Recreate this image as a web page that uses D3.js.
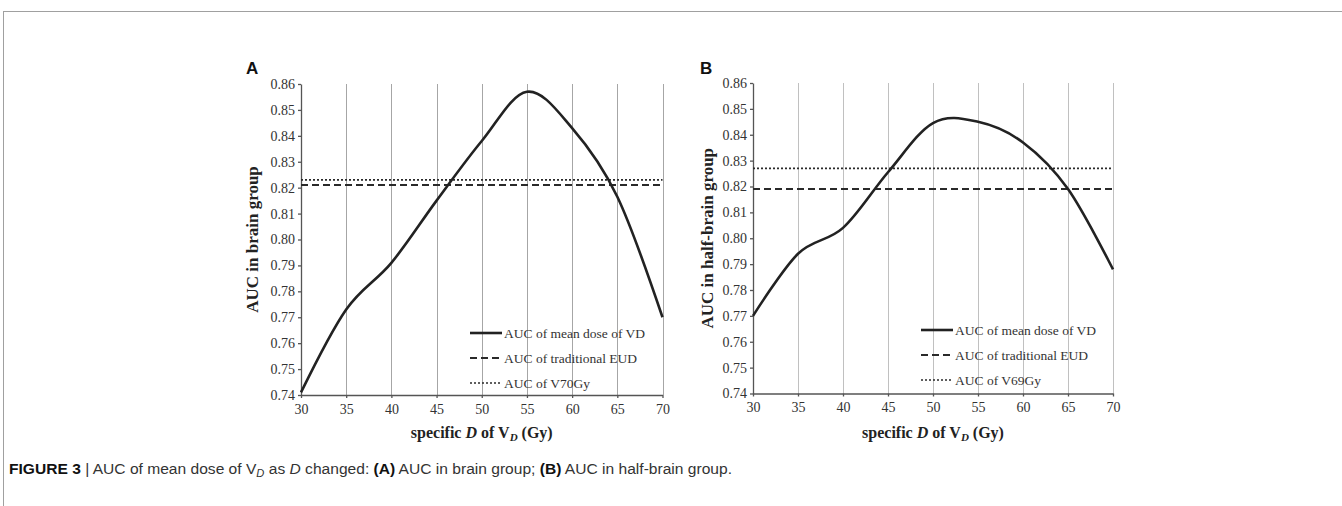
<!DOCTYPE html>
<meta charset="utf-8">
<style>
body { margin: 0; background: #fff; }
.grid line { stroke: #a8a8a8; stroke-width: 1; }
.axis path, .axis line { stroke: #555; stroke-width: 1.3; }
.axis text { font-family: "Liberation Serif", "Times New Roman", serif; font-size: 14px; fill: #333; }
.curve { fill: none; stroke: #222; stroke-width: 2.6; }
.eud { stroke: #2a2a2a; stroke-width: 2; stroke-dasharray: 7 4; }
.vgy { stroke: #2a2a2a; stroke-width: 1.6; stroke-dasharray: 2 2; }
.title { font-family: "Liberation Serif", "Times New Roman", serif; font-size: 17px; font-weight: bold; fill: #222; }
.legend text { font-family: "Liberation Serif", "Times New Roman", serif; font-size: 13.5px; fill: #333; }
</style>
<svg width="1342" height="506"></svg>
<script src="https://cdnjs.cloudflare.com/ajax/libs/d3/7.8.5/d3.min.js"></script>
<script>

// specific D (Gy) where the curves were read
var doses = [30, 35, 40, 45, 50, 55, 60, 65, 70];

// panel A - brain group
var aucBrain = [0.741, 0.773, 0.791, 0.815, 0.838, 0.857, 0.843, 0.8165, 0.770];
var eudBrain = 0.821;
var vgyBrain = 0.823;

// panel B - half-brain group
var aucHalf = [0.770, 0.794, 0.804, 0.8255, 0.8445, 0.845, 0.837, 0.819, 0.788];
var eudHalf = 0.819;
var vgyHalf = 0.827;

var xTicks = [30, 35, 40, 45, 50, 55, 60, 65, 70];
var yTicks = d3.range(74, 87).map(function(d) { return d / 100; });

var svg = d3.select("svg");

// figure frame (top and left rules)
svg.append("line").attr("x1", 3).attr("x2", 1342).attr("y1", 11.5).attr("y2", 11.5)
    .attr("stroke", "#a0a0a0").attr("stroke-width", 1);
svg.append("line").attr("x1", 3.5).attr("x2", 3.5).attr("y1", 11).attr("y2", 506)
    .attr("stroke", "#a0a0a0").attr("stroke-width", 1);

function panel(opts) {
  var x = d3.scaleLinear().domain([30, 70]).range([opts.left, opts.right]);
  var y = d3.scaleLinear().domain([0.74, 0.86]).range([opts.bottom, opts.top]);
  var g = svg.append("g");

  // vertical gridlines
  g.append("g").attr("class", "grid")
    .selectAll("line")
    .data(xTicks.slice(1))
    .enter().append("line")
      .attr("x1", function(d) { return Math.round(x(d)) + 0.5; })
      .attr("x2", function(d) { return Math.round(x(d)) + 0.5; })
      .attr("y1", opts.top)
      .attr("y2", opts.bottom)
      .style("stroke", opts.grid);

  g.append("g").attr("class", "axis")
      .attr("transform", "translate(" + opts.left + ",0)")
      .call(d3.axisLeft(y).tickValues(yTicks).tickFormat(d3.format(".2f")).tickSize(3).tickSizeOuter(0).tickPadding(3));

  g.append("g").attr("class", "axis")
      .attr("transform", "translate(0," + opts.bottom + ")")
      .call(d3.axisBottom(x).tickValues(xTicks).tickSize(3).tickSizeOuter(0).tickPadding(6));

  // reference lines
  g.append("line").attr("class", "eud")
      .attr("x1", x(30)).attr("x2", x(70)).attr("y1", y(opts.eud)).attr("y2", y(opts.eud));
  g.append("line").attr("class", "vgy")
      .attr("x1", x(30)).attr("x2", x(70)).attr("y1", y(opts.vgy)).attr("y2", y(opts.vgy));

  var line = d3.line()
      .x(function(d, i) { return x(doses[i]); })
      .y(function(d) { return y(d); })
      .curve(d3.curveCardinal.tension(0));

  g.append("path").attr("class", "curve").attr("d", line(opts.values));

  // legend
  var lg = g.append("g").attr("class", "legend");
  var items = [
    {cls: "curve", label: "AUC of mean dose of VD"},
    {cls: "eud", label: "AUC of traditional EUD"},
    {cls: "vgy", label: "AUC of " + opts.vgyName}
  ];
  items.forEach(function(it, i) {
    var yy = opts.legendY + i * 25;
    lg.append("line").attr("class", it.cls)
        .attr("x1", opts.legendX).attr("x2", opts.legendX + 32)
        .attr("y1", yy).attr("y2", yy);
    lg.append("text").attr("x", opts.legendX + 34).attr("y", yy + 4.5).text(it.label);
  });

  // y title
  g.append("text").attr("class", "title")
      .attr("transform", "translate(" + opts.yTitleX + "," + ((opts.top + opts.bottom) / 2) + ") rotate(-90)")
      .attr("text-anchor", "middle")
      .text(opts.yTitle);

  // x title
  var xt = g.append("text").attr("class", "title")
      .attr("x", (opts.left + opts.right) / 2).attr("y", 438)
      .attr("text-anchor", "middle")
      .style("font-size", "16px");
  xt.append("tspan").text("specific ");
  xt.append("tspan").attr("font-style", "italic").text("D");
  xt.append("tspan").text(" of V");
  xt.append("tspan").attr("font-style", "italic").attr("font-size", "11px").attr("dy", 3).text("D");
  xt.append("tspan").attr("dy", -3).text(" (Gy)");

  // panel letter
  g.append("text")
      .attr("x", opts.letterX).attr("y", 74)
      .attr("font-family", "Liberation Sans, Arial, sans-serif")
      .attr("font-weight", "bold").attr("font-size", "17px").attr("fill", "#111")
      .text(opts.letter);
}

panel({
  left: 301, right: 662.5, top: 84, bottom: 395,
  values: aucBrain, eud: eudBrain, vgy: vgyBrain, vgyName: "V70Gy",
  grid: "#a6a6a6", legendX: 470, legendY: 333,
  yTitle: "AUC in brain group", yTitleX: 258, letter: "A", letterX: 246
});

panel({
  left: 753, right: 1113, top: 83, bottom: 393.5,
  values: aucHalf, eud: eudHalf, vgy: vgyHalf, vgyName: "V69Gy",
  grid: "#c0c0c0", legendX: 921, legendY: 330,
  yTitle: "AUC in half-brain group", yTitleX: 713, letter: "B", letterX: 700
});

// caption
var cap = svg.append("text")
    .attr("x", 9).attr("y", 474)
    .attr("font-family", "Liberation Sans Narrow, Liberation Sans, Arial, sans-serif")
    .attr("font-size", "14px").attr("fill", "#333")
    .attr("textLength", 723).attr("lengthAdjust", "spacingAndGlyphs");
cap.append("tspan").attr("font-weight", "bold").attr("fill", "#111").text("FIGURE 3");
cap.append("tspan").text(" | AUC of mean dose of V");
cap.append("tspan").attr("font-style", "italic").attr("font-size", "10px").attr("dy", 3).text("D");
cap.append("tspan").attr("dy", -3).text(" as ");
cap.append("tspan").attr("font-style", "italic").text("D");
cap.append("tspan").text(" changed: ");
cap.append("tspan").attr("font-weight", "bold").attr("fill", "#111").text("(A)");
cap.append("tspan").text(" AUC in brain group; ");
cap.append("tspan").attr("font-weight", "bold").attr("fill", "#111").text("(B)");
cap.append("tspan").text(" AUC in half-brain group.");

</script>
